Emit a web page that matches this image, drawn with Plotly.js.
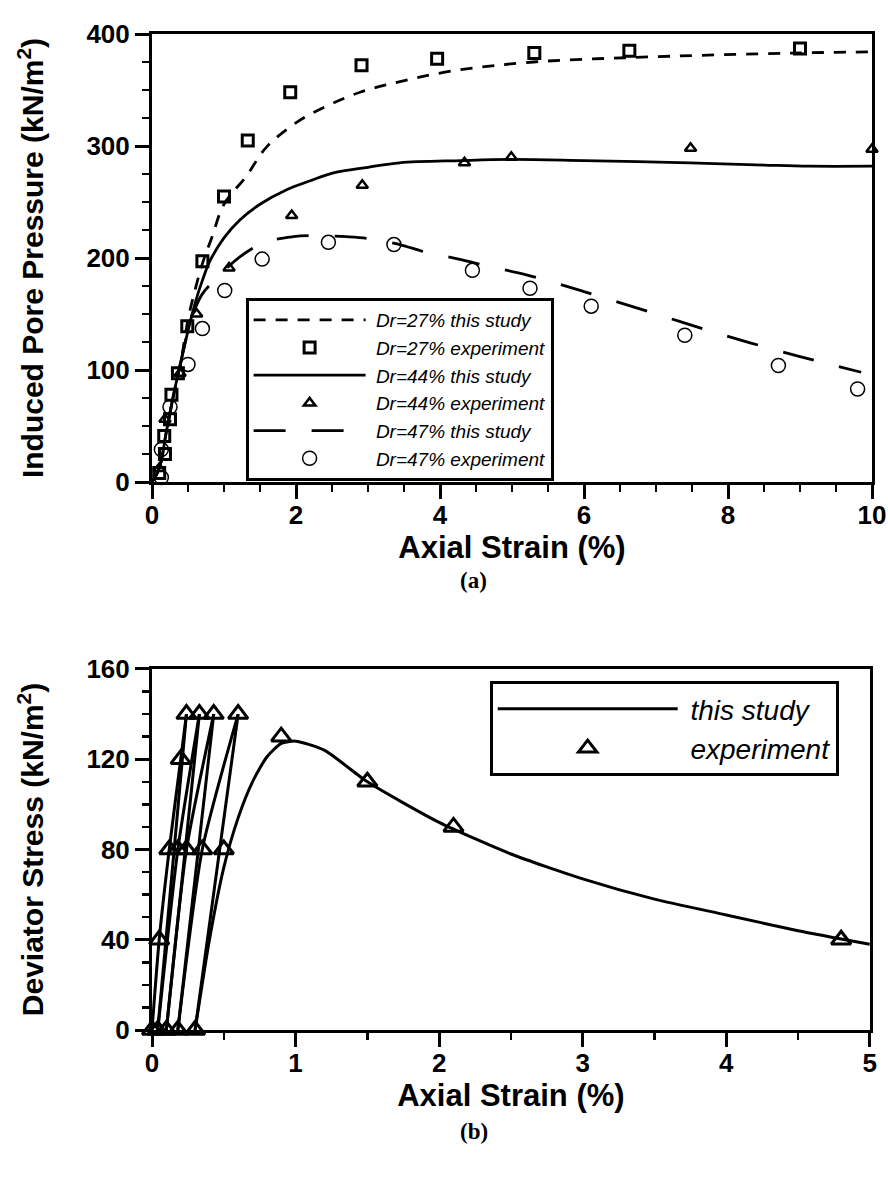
<!DOCTYPE html>
<html><head><meta charset="utf-8">
<script src="https://cdn.plot.ly/plotly-3.0.1.min.js"></script>
<style>html,body{margin:0;padding:0;background:#fff}#chart{width:888px;height:1184px}</style>
</head><body><div id="chart"></div>
<script>
// ---- Panel (a): induced pore pressure ----
const model27X = [0,0.1,0.2,0.3,0.4,0.5,0.6,0.7,0.83,1.0,1.31,1.59,2.03,2.47,2.89,3.35,4.17,5.3,6.67,8.88,10];
const model27Y = [0,12,45,78,107,145,172,195,218,248,273,299,322,337,348,356,367,375,379,383,384];
const exp27X = [0.1,0.18,0.17,0.25,0.27,0.36,0.49,0.7,1.0,1.33,1.92,2.91,3.96,5.31,6.63,9.0];
const exp27Y = [8,25,41,56,78,97,139,197,255,305,348,372,378,383,385,387];

const model44X = [0,0.1,0.2,0.3,0.4,0.5,0.6,0.7,0.81,1.0,1.22,1.5,1.87,2.2,2.52,3.0,3.44,4.3,5.0,6.0,7.47,8.5,9.12,10];
const model44Y = [0,12,45,78,107,135,160,180,198,218,234,248,261,269,276,281,285,287,288,287,285,283,282,282];
const exp44X = [0.1,0.18,0.39,0.62,1.07,1.94,2.92,4.34,4.99,7.48,10.0];
const exp44Y = [12,56,97,150,191,238,265,285,290,298,297];

const model47X = [0,0.1,0.2,0.3,0.4,0.5,0.6,0.7,0.9,1.22,1.57,1.96,2.31,2.7,3.05,3.44,3.81,4.26,4.71,5.2,6.0,7.0,8.0,9.0,9.85];
const model47Y = [0,12,45,78,107,135,155,168,182,201,214,219,220,219,217,212,205,199,192,185,170,150,130,112,98];
const exp47X = [0.13,0.13,0.25,0.5,0.7,1.01,1.53,2.45,3.36,4.45,5.25,6.1,7.4,8.7,9.8];
const exp47Y = [4,29,67,105,137,171,199,214,212,189,173,157,131,104,83];

// ---- Panel (b): deviator stress ----
const modelBX = [0,0.05,0.12,0.2,0.24,null,0.24,0.04,null,0.04,0.18,0.33,null,0.33,0.1,null,0.1,0.24,0.43,null,0.43,0.18,null,0.18,0.35,0.6,null,0.6,0.3,null,
                 0.3,0.4,0.5,0.6,0.7,0.8,0.9,1.0,1.2,1.5,2.0,2.5,3.0,3.5,4.0,4.5,5.0];
const modelBY = [0,40,80,120,140,null,140,0,null,0,80,140,null,140,0,null,0,80,140,null,140,0,null,0,80,140,null,140,0,null,
                 0,40,72,94,110,121,127,128,124,110,92,78,67,58,51,44,38];
const expBX = [0,0.05,0.12,0.2,0.24,0.04,0.18,0.33,0.1,0.24,0.43,0.18,0.35,0.6,0.3,0.5,0.9,1.5,2.1,4.8];
const expBY = [0,40,80,120,140,0,80,140,0,80,140,0,80,140,0,80,130,110,90,40];

const FONT = 'Liberation Sans, Arial, sans-serif';
const lineW = 2.8;

const traces = [
  {x:model27X, y:model27Y, mode:'lines', name:' Dr=27% this study', line:{color:'black', width:lineW, dash:'12px,10px', shape:'spline'}, legendgroup:'a1', legend:'legend', xaxis:'x', yaxis:'y'},
  {x:exp27X, y:exp27Y, mode:'markers', name:' Dr=27% experiment', marker:{symbol:'square-open', size:11, color:'black', line:{width:3, color:'black'}}, cliponaxis:false, legendgroup:'a2', legend:'legend', xaxis:'x', yaxis:'y'},
  {x:model44X, y:model44Y, mode:'lines', name:' Dr=44% this study', line:{color:'black', width:lineW, shape:'spline'}, legendgroup:'a3', legend:'legend', xaxis:'x', yaxis:'y'},
  {x:exp44X, y:exp44Y, mode:'markers', name:' Dr=44% experiment', marker:{symbol:'triangle-up-open', size:10, color:'black', line:{width:2.5, color:'black'}}, cliponaxis:false, legendgroup:'a4', legend:'legend', xaxis:'x', yaxis:'y'},
  {x:model47X, y:model47Y, mode:'lines', name:' Dr=47% this study', line:{color:'black', width:lineW, dash:'32px,26px', shape:'spline'}, legendgroup:'a5', legend:'legend', xaxis:'x', yaxis:'y'},
  {x:exp47X, y:exp47Y, mode:'markers', name:' Dr=47% experiment', marker:{symbol:'circle-open', size:14, color:'black', line:{width:1.5, color:'black'}}, cliponaxis:false, legendgroup:'a6', legend:'legend', xaxis:'x', yaxis:'y'},
  {x:modelBX, y:modelBY, mode:'lines', name:' this study', line:{color:'black', width:3, shape:'spline', smoothing:0.6}, connectgaps:false, legendgroup:'b1', legend:'legend2', xaxis:'x2', yaxis:'y2'},
  {x:expBX, y:expBY, mode:'markers', name:' experiment', marker:{symbol:'triangle-up-open', size:17, color:'black', line:{width:3, color:'black'}}, cliponaxis:false, legendgroup:'b2', legend:'legend2', xaxis:'x2', yaxis:'y2'}
];

function minorCfg(d){ return {ticks:'outside', ticklen:7, tickwidth:2.5, tickcolor:'black', dtick:d, tick0:0, showgrid:false}; }
function axis(extra){
  return Object.assign({
    showline:true, linewidth:3, linecolor:'black', mirror:true,
    ticks:'outside', ticklen:14, tickwidth:3, tickcolor:'black',
    showgrid:false, zeroline:false,
    tickfont:{family:FONT, size:26, color:'black', weight:'bold'}
  }, extra);
}
const xTitleFont = {family:FONT, size:31, color:'black', weight:'bold'};
const yTitleFont = {family:FONT, size:30, color:'black', weight:'bold'};

const layout = {
  width:888, height:1184,
  margin:{l:152, r:16, t:34, b:154},
  paper_bgcolor:'white', plot_bgcolor:'white',
  showlegend:true,
  xaxis: axis({domain:[0,1], range:[0,10], dtick:2, tick0:0, anchor:'y', ticklabelstandoff:-6, minor:minorCfg(0.5), title:{text:'Axial Strain (%)', font:xTitleFont, standoff:0}}),
  yaxis: axis({domain:[0.5502,1], range:[0,400], dtick:100, tick0:0, anchor:'x', minor:minorCfg(25), title:{text:'Induced Pore Pressure (kN/m<sup>2</sup>)', font:yTitleFont, standoff:34}}),
  xaxis2: axis({domain:[0,0.997], range:[0,5], dtick:1, tick0:0, anchor:'y2', ticklabelstandoff:-6, minor:minorCfg(0.5), title:{text:'Axial Strain (%)', font:xTitleFont, standoff:0}}),
  yaxis2: axis({domain:[0,0.3625], range:[0,160], dtick:40, tick0:0, anchor:'x2', minor:minorCfg(10), title:{text:'Deviator Stress (kN/m<sup>2</sup>)', font:yTitleFont, standoff:34}}),
  legend:{x:0.13, y:0.735, xanchor:'left', yanchor:'top', bgcolor:'white', bordercolor:'black', borderwidth:3,
          font:{family:FONT, size:19, color:'black', style:'italic'}, itemwidth:112, tracegroupgap:3, traceorder:'normal'},
  legend2:{x:0.469, y:0.3504, xanchor:'left', yanchor:'top', bgcolor:'white', bordercolor:'black', borderwidth:3,
          font:{family:FONT, size:28, color:'black', style:'italic'}, itemwidth:180, tracegroupgap:5, traceorder:'normal'},
  annotations:[
    {text:'<b>(a)</b>', xref:'paper', yref:'paper', x:0.447, y:0.4518, yanchor:'middle', showarrow:false, font:{family:'Liberation Serif, Times New Roman, serif', size:23, color:'black'}},
    {text:'<b>(b)</b>', xref:'paper', yref:'paper', x:0.447, y:-0.1024, yanchor:'middle', showarrow:false, font:{family:'Liberation Serif, Times New Roman, serif', size:23, color:'black'}}
  ]
};

Plotly.newPlot('chart', traces, layout, {staticPlot:true, displayModeBar:false});
</script></body></html>
